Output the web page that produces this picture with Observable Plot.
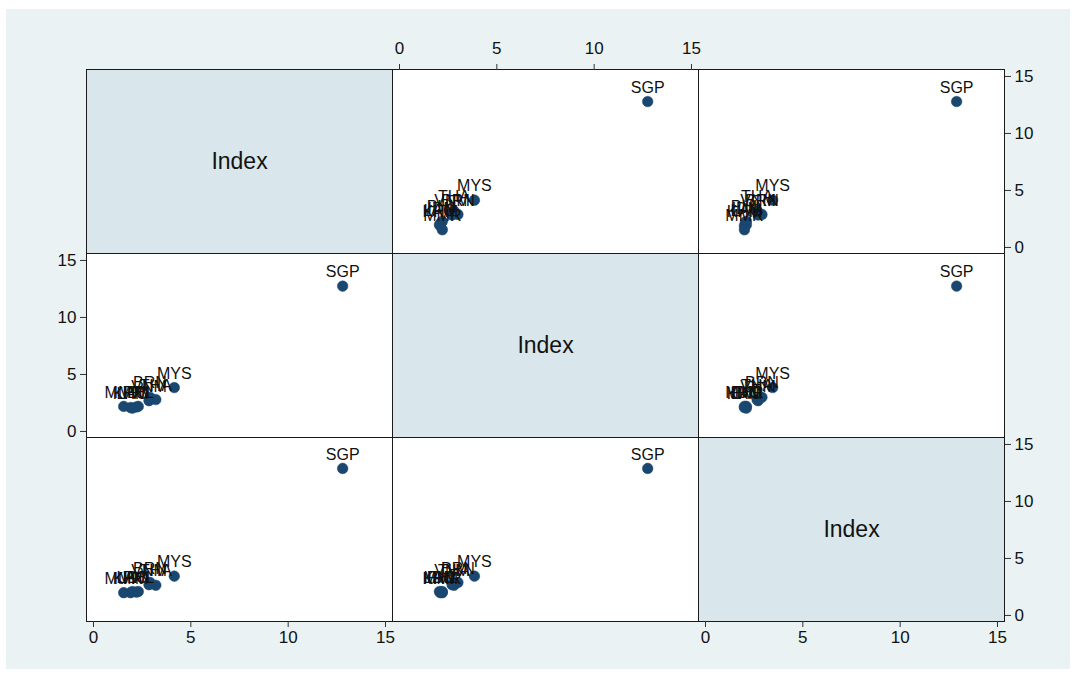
<!DOCTYPE html>
<html>
<head>
<meta charset="utf-8">
<script src="https://cdn.jsdelivr.net/npm/d3@7"></script>
<script src="https://cdn.jsdelivr.net/npm/@observablehq/plot@0.6"></script>
<style>
  body { margin: 0; background: #ffffff; font-family: "Liberation Sans", Arial, sans-serif; }
  #frame { position: absolute; left: 6px; top: 9px; width: 1064px; height: 660px; background: #EAF2F3; }
  .cell { position: absolute; }
  .cell svg { overflow: visible; }
</style>
</head>
<body>
<div id="frame"></div>
<div id="grid"></div>
<script>
// Country codes and the three index values for each country
const countries = ["SGP", "MYS", "THA", "BRN", "VNM", "PHL", "IDN", "KHM", "LAO", "MMR"];
const index1 = [12.8, 4.15, 3.2, 2.9, 2.85, 2.3, 2.2, 1.9, 2.0, 1.55];
const index2 = [12.75, 3.85, 2.8, 3.0, 2.7, 2.2, 2.15, 2.1, 2.05, 2.2];
const index3 = [12.9, 3.45, 2.65, 2.9, 2.7, 2.1, 2.05, 2.0, 2.1, 2.0];
const varLabels = ["Index", "Index", "Index"];
const tickValues = [0, 5, 10, 15];

const vars = [index1, index2, index3];

// Matrix cell geometry
const colLeft = [86, 392, 698];
const rowTop = [69, 253, 437];
const cellW = 306, cellH = 184;
const M = {left: 45, right: 45, top: 34, bottom: 34};

const navy = "#1A476F";
const font = "'Liberation Sans', Arial, Helvetica, sans-serif";

const grid = document.getElementById("grid");

for (let i = 0; i < 3; ++i) {
  for (let j = 0; j < 3; ++j) {
    const marks = [];
    const diag = i === j;
    marks.push(Plot.frame({fill: diag ? "#D9E6EB" : "#ffffff", stroke: "#1a1a1a", strokeWidth: 1}));

    // column axes alternate bottom/top, row axes alternate right/left
    if (i === (j % 2 === 0 ? 2 : 0)) {
      const top = j % 2 === 1;
      marks.push(Plot.axisX({
        anchor: top ? "top" : "bottom",
        ticks: tickValues,
        tickSize: 6,
        tickPadding: top ? 10 : 3,
        fontSize: 17,
        stroke: "#333",
        fill: "#111",
        label: null
      }));
    }
    if (j === (i % 2 === 0 ? 2 : 0)) {
      const left = i % 2 === 1;
      marks.push(Plot.axisY({
        anchor: left ? "left" : "right",
        ticks: tickValues,
        tickSize: 6,
        tickPadding: 4,
        fontSize: 17,
        stroke: "#333",
        fill: "#111",
        label: null
      }));
    }

    if (diag) {
      marks.push(Plot.text([varLabels[i]], {frameAnchor: "middle", fontSize: 23, fill: "#111"}));
    } else {
      const pts = countries.map((c, k) => ({country: c, x: vars[j][k], y: vars[i][k]}));
      marks.push(Plot.dot(pts, {x: "x", y: "y", r: 5.3, fill: navy, stroke: navy, strokeWidth: 0.5}));
      marks.push(Plot.text(pts, {x: "x", y: "y", text: "country", dy: -14, fontSize: 16, fill: "#111"}));
    }

    const chart = Plot.plot({
      width: cellW + M.left + M.right,
      height: cellH + M.top + M.bottom,
      marginLeft: M.left, marginRight: M.right, marginTop: M.top, marginBottom: M.bottom,
      x: {domain: [-0.36, 15.36], axis: null},
      y: {domain: [-0.53, 15.61], axis: null},
      style: {background: "transparent", fontFamily: font, color: "#111"},
      marks
    });
    const div = document.createElement("div");
    div.className = "cell";
    div.style.left = (colLeft[j] - M.left) + "px";
    div.style.top = (rowTop[i] - M.top) + "px";
    div.appendChild(chart);
    grid.appendChild(div);
  }
}
</script>
</body>
</html>
